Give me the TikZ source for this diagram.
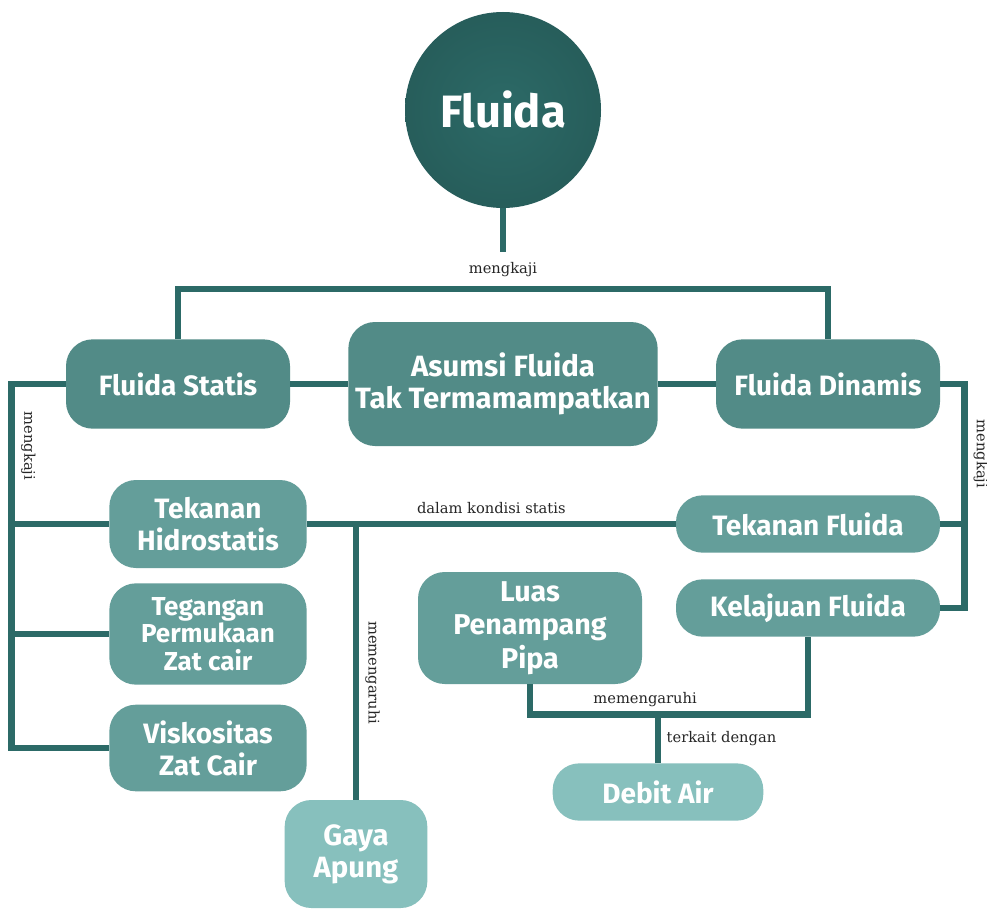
\documentclass[tikz,border=0pt]{standalone}
\usepackage{fontspec}
\setmainfont{Fira Sans}
\newfontfamily\labfont{DejaVu Serif}
\definecolor{tealdark}{HTML}{2C6A67}
\definecolor{tealmid}{HTML}{528B87}
\definecolor{teallight}{HTML}{649E9A}
\definecolor{tealpale}{HTML}{87C0BD}

\begin{document}
\begin{tikzpicture}[
  x=0.75pt, y=-0.75pt,
  every node/.style={align=center},
  topik/.style={rounded corners=20pt, inner sep=2pt, text=white,
                font=\bfseries\fontsize{21}{24}\selectfont},
  utama/.style={topik, fill=tealmid, minimum width=168pt, minimum height=67pt},
  sub/.style={topik, fill=teallight},
  hasil/.style={topik, fill=tealpale},
  con/.style={draw=tealdark, line width=5pt},
  lab/.style={font=\labfont\fontsize{11}{13}\selectfont, text=black!85, inner sep=1pt},
  vlab/.style={lab, anchor=south, rotate=-90, outer sep=6pt}
]
\path[use as bounding box, fill=white] (0,0) rectangle (987,909);

% main topic
\node[circle, minimum size=147pt, inner color=tealdark, outer color=tealdark!88!black,
      text=white, font=\bfseries\fontsize{34}{40}\selectfont] (fluida) at (503,110) {Fluida};

\node[utama] (statis) at (178,384) {Fluida Statis};
\node[utama, minimum width=232pt, minimum height=93pt,
      font=\bfseries\fontsize{22}{24}\selectfont] (asumsi) at (503,384) {Asumsi Fluida\\Tak Termamampatkan};
\node[utama] (dinamis) at (828,384) {Fluida Dinamis};

% static branch
\node[sub, minimum width=148pt, minimum height=66pt] (hidro) at (208,524) {Tekanan\\Hidrostatis};
\node[sub, minimum width=148pt, minimum height=76pt,
      font=\bfseries\fontsize{19.5}{20.5}\selectfont] (tegangan) at (208,634) {Tegangan\\Permukaan\\Zat cair};
\node[sub, minimum width=148pt, minimum height=65pt] (visko) at (208,748) {Viskositas\\Zat Cair};
\node[hasil, minimum width=107pt, minimum height=81pt,
      font=\bfseries\fontsize{22}{24}\selectfont] (gaya) at (356,854) {Gaya\\Apung};

% dynamic branch
\node[sub, minimum width=198pt, minimum height=43pt] (tekfluida) at (808,524) {Tekanan Fluida};
\node[sub, minimum width=198pt, minimum height=43pt] (kelajuan) at (808,608) {Kelajuan Fluida};
\node[sub, minimum width=168pt, minimum height=84pt,
      font=\bfseries\fontsize{21.5}{25}\selectfont] (luas) at (530,628) {Luas\\Penampang\\Pipa};
\node[hasil, minimum width=158pt, minimum height=43pt] (debit) at (658,792) {Debit Air};

% connectors
\draw[con] (fluida.south) -- ++(0,44) node[below=4pt, lab] {mengkaji};
\draw[con] (statis.north) -- ++(0,-50) -| (dinamis.north);
\draw[con] (statis.east) -- (asumsi.west);
\draw[con] (asumsi.east) -- (dinamis.west);

\draw[con] (statis.west) -- ++(-54,0) coordinate (kiri) |- (visko.west)
  node[pos=0.085, vlab] {mengkaji};
\draw[con] (hidro.west) -- (hidro.west -| kiri);
\draw[con] (tegangan.west) -- (tegangan.west -| kiri);

\draw[con] (dinamis.east) -- ++(24,0) coordinate (kanan) |- (kelajuan.east)
  node[pos=0.156, vlab] {mengkaji};
\draw[con] (tekfluida.east) -- (tekfluida.east -| kanan);

\draw[con] (hidro.east) -- (tekfluida.west)
  node[midway, above=4pt, lab] {dalam kondisi statis};
\draw[con] (gaya.north) -- (gaya.north |- hidro.east)
  node[pos=0.46, vlab] {memengaruhi};

\draw[con] (luas.south) -- ++(0,30) coordinate (bawah) -| (kelajuan.south)
  node[pos=0.207, above=2pt, lab] {memengaruhi};
\draw[con] (debit.north) -- (debit.north |- bawah)
  node[midway, right=3pt, lab] {terkait dengan};
\end{tikzpicture}
\end{document}
